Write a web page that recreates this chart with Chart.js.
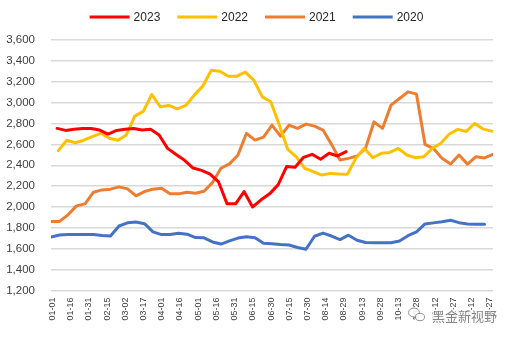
<!DOCTYPE html>
<html>
<head>
<meta charset="utf-8">
<script src="https://cdn.jsdelivr.net/npm/chart.js@4.4.1/dist/chart.umd.min.js"></script>
<style>
    html, body { margin: 0; padding: 0; background: #fff; }
    #wrap { width: 506px; height: 337px; position: relative; }
</style>
</head>
<body>
<div id="wrap"><canvas id="priceChart"></canvas></div>
<script>
// Weekly price, four years overlaid on one calendar (x = day of year, 0 = Jan 1)
const tickLabels = ['01-01', '01-16', '01-31', '02-15', '03-02', '03-17', '04-01', '04-16', '05-01',
    '05-16', '05-31', '06-15', '06-30', '07-15', '07-30', '08-14', '08-29', '09-13', '09-28',
    '10-13', '10-28', '11-12', '11-27', '12-12', '12-27'];

// first observation day of each year
const start2023 = 5;
const start2022 = 6;
const start2021 = 0;
const start2020 = 0;

const values2023 = [2753, 2734, 2744, 2753, 2753, 2737, 2699, 2734, 2744, 2753, 2737, 2744, 2690,
    2562, 2503, 2447, 2373, 2351, 2315, 2240, 2030, 2030, 2148, 2000, 2069, 2126, 2212, 2387,
    2381, 2476, 2505, 2457, 2515, 2489, 2530];

const values2022 = [2540, 2640, 2616, 2640, 2674, 2706, 2658, 2639, 2690, 2871, 2916, 3078, 2960,
    2973, 2941, 2973, 3072, 3158, 3311, 3301, 3253, 3253, 3292, 3215, 3055, 3008, 2785, 2552,
    2481, 2370, 2338, 2306, 2322, 2316, 2313, 2466, 2562, 2472, 2514, 2523, 2562, 2498, 2472,
    2481, 2562, 2610, 2699, 2744, 2724, 2801, 2746, 2727];

const values2021 = [1862, 1862, 1925, 2011, 2030, 2142, 2164, 2171, 2193, 2174, 2107, 2148, 2171,
    2180, 2126, 2126, 2142, 2132, 2151, 2234, 2371, 2413, 2499, 2706, 2641, 2670, 2785, 2679,
    2785, 2753, 2794, 2775, 2737, 2600, 2450, 2466, 2488, 2562, 2816, 2753, 2976, 3040, 3103,
    3081, 2600, 2560, 2466, 2412, 2498, 2411, 2482, 2470, 2505];

const values2020 = [1712, 1732, 1737, 1737, 1737, 1737, 1727, 1722, 1818, 1848, 1856, 1840, 1762,
    1736, 1737, 1748, 1740, 1707, 1705, 1665, 1645, 1675, 1702, 1714, 1705, 1652, 1648, 1640,
    1636, 1612, 1595, 1720, 1750, 1722, 1688, 1730, 1682, 1660, 1657, 1657, 1657, 1675, 1725,
    1762, 1838, 1848, 1858, 1873, 1850, 1837, 1835, 1835];

const FONT = "'Liberation Sans', Arial, sans-serif";

function weekly(startDay, values) {
    return values.map((v, i) => ({ x: startDay + i * 7, y: v }));
}

function series(label, color, startDay, values) {
    return {
        label,
        data: weekly(startDay, values),
        borderColor: color,
        backgroundColor: color,
        borderWidth: 3,
        borderJoinStyle: 'round',
        borderCapStyle: 'round',
        pointRadius: 0,
        tension: 0,
        fill: false,
    };
}

// legend row: short thick line + year, centred above the plot
const lineLegend = {
    id: 'lineLegend',
    afterDraw(chart) {
        const ctx = chart.ctx;
        const sets = chart.data.datasets;
        const lineW = 40;
        const gap = 4;
        const itemGap = 17;
        const y = 17;
        ctx.save();
        ctx.font = `12px ${FONT}`;
        const widths = sets.map((ds) => lineW + gap + ctx.measureText(ds.label).width);
        const total = widths.reduce((a, b) => a + b, 0) + itemGap * (sets.length - 1);
        let x = 256.5 - total / 2;
        ctx.textBaseline = 'middle';
        ctx.textAlign = 'left';
        sets.forEach((ds, i) => {
            ctx.fillStyle = ds.borderColor;
            ctx.fillRect(x, y - 1.5, lineW, 3);
            ctx.fillStyle = '#262626';
            ctx.fillText(ds.label, x + lineW + gap, y + 0.5);
            x += widths[i] + itemGap;
        });
        ctx.restore();
    },
};

// faint account mark (chat bubbles + name) in the lower right corner
const watermark = {
    id: 'watermark',
    afterDraw(chart) {
        const ctx = chart.ctx;
        ctx.save();
        ctx.lineWidth = 1;
        ctx.strokeStyle = 'rgba(120,120,120,0.8)';
        ctx.fillStyle = 'rgba(255,255,255,0.9)';
        ctx.beginPath();
        ctx.ellipse(414, 312.5, 5.5, 4.5, 0, 0, Math.PI * 2);
        ctx.fill();
        ctx.stroke();
        ctx.beginPath();
        ctx.ellipse(420, 317, 4.5, 3.7, 0, 0, Math.PI * 2);
        ctx.fill();
        ctx.stroke();

        ctx.font = "13px 'Noto Sans CJK SC', sans-serif";
        ctx.textAlign = 'left';
        ctx.textBaseline = 'middle';
        ctx.lineWidth = 3;
        ctx.strokeStyle = 'rgba(255,255,255,0.85)';
        ctx.strokeText('黑金新视野', 432, 316);
        ctx.fillStyle = 'rgba(110,110,110,0.85)';
        ctx.fillText('黑金新视野', 432, 316);
        ctx.restore();
    },
};

new Chart(document.getElementById('priceChart'), {
    type: 'line',
    data: {
        datasets: [
            series('2023', '#FF0000', start2023, values2023),
            series('2022', '#FFC000', start2022, values2022),
            series('2021', '#ED7D31', start2021, values2021),
            series('2020', '#4472C4', start2020, values2020),
        ],
    },
    options: {
        responsive: true,
        maintainAspectRatio: false,
        animation: false,
        layout: { padding: { top: 40, right: 3, left: 0, bottom: 0 } },
        plugins: {
            legend: { display: false },
            tooltip: { enabled: false },
        },
        scales: {
            x: {
                type: 'linear',
                min: 0,
                max: 364,
                afterBuildTicks(scale) {
                    scale.ticks = tickLabels.map((_, i) => ({ value: i * 15 }));
                },
                afterFit(scale) {
                    scale.height = 46.5;
                },
                grid: { display: false, drawTicks: false },
                border: { display: false },
                ticks: {
                    autoSkip: false,
                    minRotation: 90,
                    maxRotation: 90,
                    padding: 7,
                    labelOffset: 1.5,
                    color: '#404040',
                    font: { family: FONT, size: 9 },
                    callback(value, index) {
                        return tickLabels[index];
                    },
                },
            },
            y: {
                min: 1200,
                max: 3600,
                afterFit(scale) {
                    scale.width = 51;
                },
                grid: { color: '#d9d9d9', lineWidth: 1.5, drawTicks: false },
                border: { display: false },
                ticks: {
                    stepSize: 200,
                    padding: 16,
                    color: '#404040',
                    font: { family: FONT, size: 11.5 },
                    callback(value) {
                        return value.toLocaleString('en-US');
                    },
                },
            },
        },
    },
    plugins: [lineLegend, watermark],
});
</script>
</body>
</html>
